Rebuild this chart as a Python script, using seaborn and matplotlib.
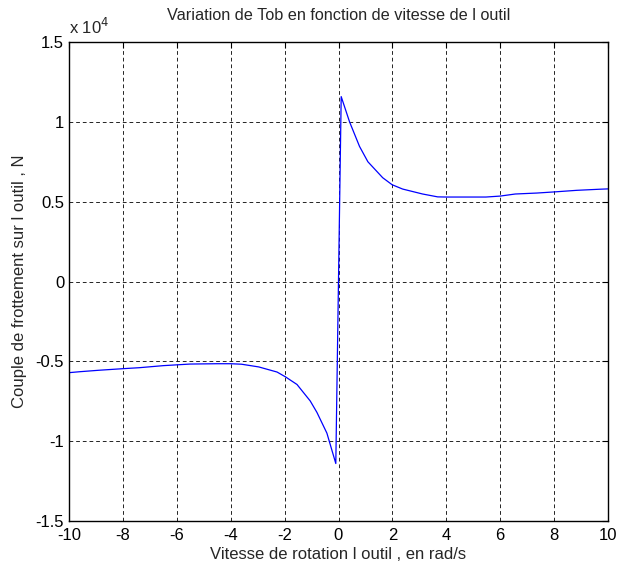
import matplotlib
matplotlib.use("Agg")
import matplotlib.pyplot as plt
import seaborn as sns
import pandas as pd

# Data (torque in N, speed in rad/s)
speed = [-10, -9.6, -8.9, -8, -7.4, -6.5, -6, -5.5, -4.5, -4, -3.6, -2.96, -2.28,
         -1.97, -1.54, -1.05, -0.8, -0.43, -0.1,
         0.1, 0.41, 0.78, 1.09, 1.64, 1.99, 2.38, 3.12, 3.68, 4, 5.47, 6, 6.56,
         7.36, 8, 8.84, 9.7, 10]
torque_e4 = [-0.571, -0.565, -0.556, -0.546, -0.54, -0.527, -0.522, -0.517, -0.515,
             -0.515, -0.518, -0.535, -0.567, -0.597, -0.645, -0.748, -0.82, -0.95,
             -1.14,
             1.158, 1.0, 0.846, 0.75, 0.65, 0.606, 0.579, 0.548, 0.53, 0.529, 0.529,
             0.535, 0.548, 0.554, 0.561, 0.571, 0.578, 0.58]
torque = [v * 1e4 for v in torque_e4]

xticks = [-10, -8, -6, -4, -2, 0, 2, 4, 6, 8, 10]
yticks_e4 = [-1.5, -1, -0.5, 0, 0.5, 1, 1.5]
ytick_labels = ["-1.5", "-1", "-0.5", "0", "0.5", "1", "1.5"]

title = "Variation de Tob en fonction de vitesse de l outil"
xlabel = "Vitesse de rotation l outil , en rad/s"
ylabel = "Couple de frottement sur l outil , N"

sns.set_style("white")
plt.rcParams['font.family'] = ['Liberation Sans', 'DejaVu Sans']

df = pd.DataFrame({"speed": speed, "torque": torque})

fig = plt.figure(figsize=(6.18, 5.72), dpi=100)
ax = fig.add_axes([69 / 618, 1 - 521 / 572, 539 / 618, 479 / 572])

sns.lineplot(data=df, x="speed", y="torque", ax=ax, color="#0000ff",
             linewidth=0.9, sort=False, estimator=None)

ax.set_xlim(-10, 10)
ax.set_ylim(-1.5e4, 1.5e4)
ax.set_xticks(xticks)
ax.set_xticklabels([str(t) for t in xticks])
ax.set_yticks([v * 1e4 for v in yticks_e4])
ax.set_yticklabels(ytick_labels)

ax.grid(True, color="black", linestyle=(0, (4.5, 3.5)), linewidth=0.6)
for s in ax.spines.values():
    s.set_color("black")
    s.set_linewidth(1.0)
ax.tick_params(direction="in", length=4, width=0.8, labelsize=12,
               top=True, right=True, colors="black")
ax.tick_params(axis="x", pad=5)
ax.tick_params(axis="y", pad=3.5)

ax.set_title(title, fontsize=11.7, pad=16)
ax.set_xlabel(xlabel, fontsize=12, labelpad=3)
ax.set_ylabel(ylabel, fontsize=12, labelpad=6)
ax.text(0.0, 1.01, r"x 10$^{4}$", transform=ax.transAxes, fontsize=12,
        ha="left", va="bottom")

fig.savefig("out.png", dpi=100)
